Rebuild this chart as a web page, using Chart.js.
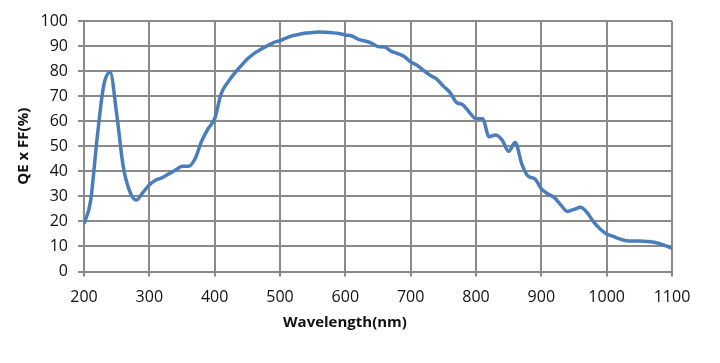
<!DOCTYPE html>
<html>
<head>
<meta charset="utf-8">
<script src="https://cdn.jsdelivr.net/npm/chart.js@4/dist/chart.umd.min.js"></script>
<style>
  html, body { margin: 0; padding: 0; background: #fff; }
  #box { width: 720px; height: 363px; position: relative; }
</style>
</head>
<body>
<div id="box"><canvas id="grafico"></canvas></div>
<script>
/* ============================
   DATI
============================ */

const lunghezzeOnda = [
  200, 210, 220, 230, 240, 250, 260, 270, 280, 290,
  300, 310, 320, 330, 340, 350, 360, 370, 380, 390,
  400, 410, 420, 430, 440, 450, 460, 470, 480, 490,
  500, 510, 520, 530, 540, 550, 560, 570, 580, 590,
  600, 610, 620, 630, 640, 650, 660, 670, 680, 690,
  700, 710, 720, 730, 740, 750, 760, 770, 780, 790,
  800, 810, 820, 830, 840, 850, 860, 870, 880, 890,
  900, 910, 920, 930, 940, 950, 960, 970, 980, 990,
  1000, 1010, 1020, 1030, 1040, 1050, 1060, 1070, 1080, 1090,
  1100
];

const qeff = [
  19, 28, 53, 74, 79.5, 63, 42, 32, 28.5, 31.5,
  34.5, 36.5, 37.5, 39, 40.5, 42, 42, 45, 52, 57,
  61, 71, 75.5, 79, 82, 84.8, 87, 88.6, 90, 91.4,
  92.2, 93.3, 94.2, 94.7, 95.2, 95.4, 95.6, 95.5, 95.3, 95,
  94.4, 94, 92.7, 92, 91.2, 89.8, 89.6, 88, 87, 85.8,
  83.7, 82.3, 80.2, 78.3, 76.8, 74, 71.5, 67.5, 66.5, 63.5,
  61, 61, 53.8, 54.5, 52.5, 48, 51.5, 43, 38, 37,
  33, 31, 29.5, 26.5, 24, 24.8, 25.6, 23.5, 19.8, 17,
  15, 14, 13, 12.3, 12.2, 12.2, 12, 11.8, 11.2, 10.3,
  9.2
];

const titoloX = 'Wavelength(nm)';
const titoloY = 'QE x FF(%)';

/* ============================
   GRAFICO
============================ */

const coloreGriglia = '#8a8a8a';
const coloreTesto = '#111';

// titolo asse X centrato come nell'originale (non sul plot)
const titoloAsseX = {
  id: 'titoloAsseX',
  afterDraw(chart) {
    const ctx = chart.ctx;
    ctx.save();
    ctx.font = 'bold 15px "Open Sans"';
    ctx.fillStyle = coloreTesto;
    ctx.textAlign = 'center';
    ctx.textBaseline = 'middle';
    ctx.fillText(titoloX, 345, 323);
    ctx.restore();
  }
};

const punti = lunghezzeOnda.map((x, i) => ({ x, y: qeff[i] }));

new Chart(document.getElementById('grafico'), {
  type: 'line',
  data: {
    datasets: [{
      data: punti,
      borderColor: '#4a7ebb',
      borderWidth: 3.5,
      pointRadius: 0,
      fill: false,
      cubicInterpolationMode: 'monotone'
    }]
  },
  options: {
    responsive: true,
    maintainAspectRatio: false,
    animation: false,
    layout: { padding: { left: 0, top: 21, right: 48, bottom: 0 } },
    plugins: {
      legend: { display: false },
      tooltip: { enabled: false }
    },
    scales: {
      x: {
        type: 'linear',
        min: 200,
        max: 1100,
        afterFit: s => { s.height = 91.5; },
        ticks: {
          stepSize: 100,
          color: coloreTesto,
          font: { family: 'Open Sans', size: 16 },
          padding: 11,
          maxRotation: 0,
          callback: v => String(v)
        },
        grid: { color: coloreGriglia, lineWidth: 2, tickLength: 5 },
        border: { color: coloreGriglia, width: 2 }
      },
      y: {
        min: 0,
        max: 100,
        afterFit: s => { s.width = 84; },
        ticks: {
          stepSize: 10,
          color: coloreTesto,
          font: { family: 'Open Sans', size: 16 },
          padding: 10
        },
        grid: { color: coloreGriglia, lineWidth: 2, tickLength: 6 },
        border: { color: coloreGriglia, width: 2 },
        title: {
          display: true,
          text: titoloY,
          color: coloreTesto,
          font: { family: 'Open Sans', size: 15, weight: 'bold' },
          padding: { top: 15, bottom: 0 }
        }
      }
    }
  },
  plugins: [titoloAsseX]
});
</script>
</body>
</html>
